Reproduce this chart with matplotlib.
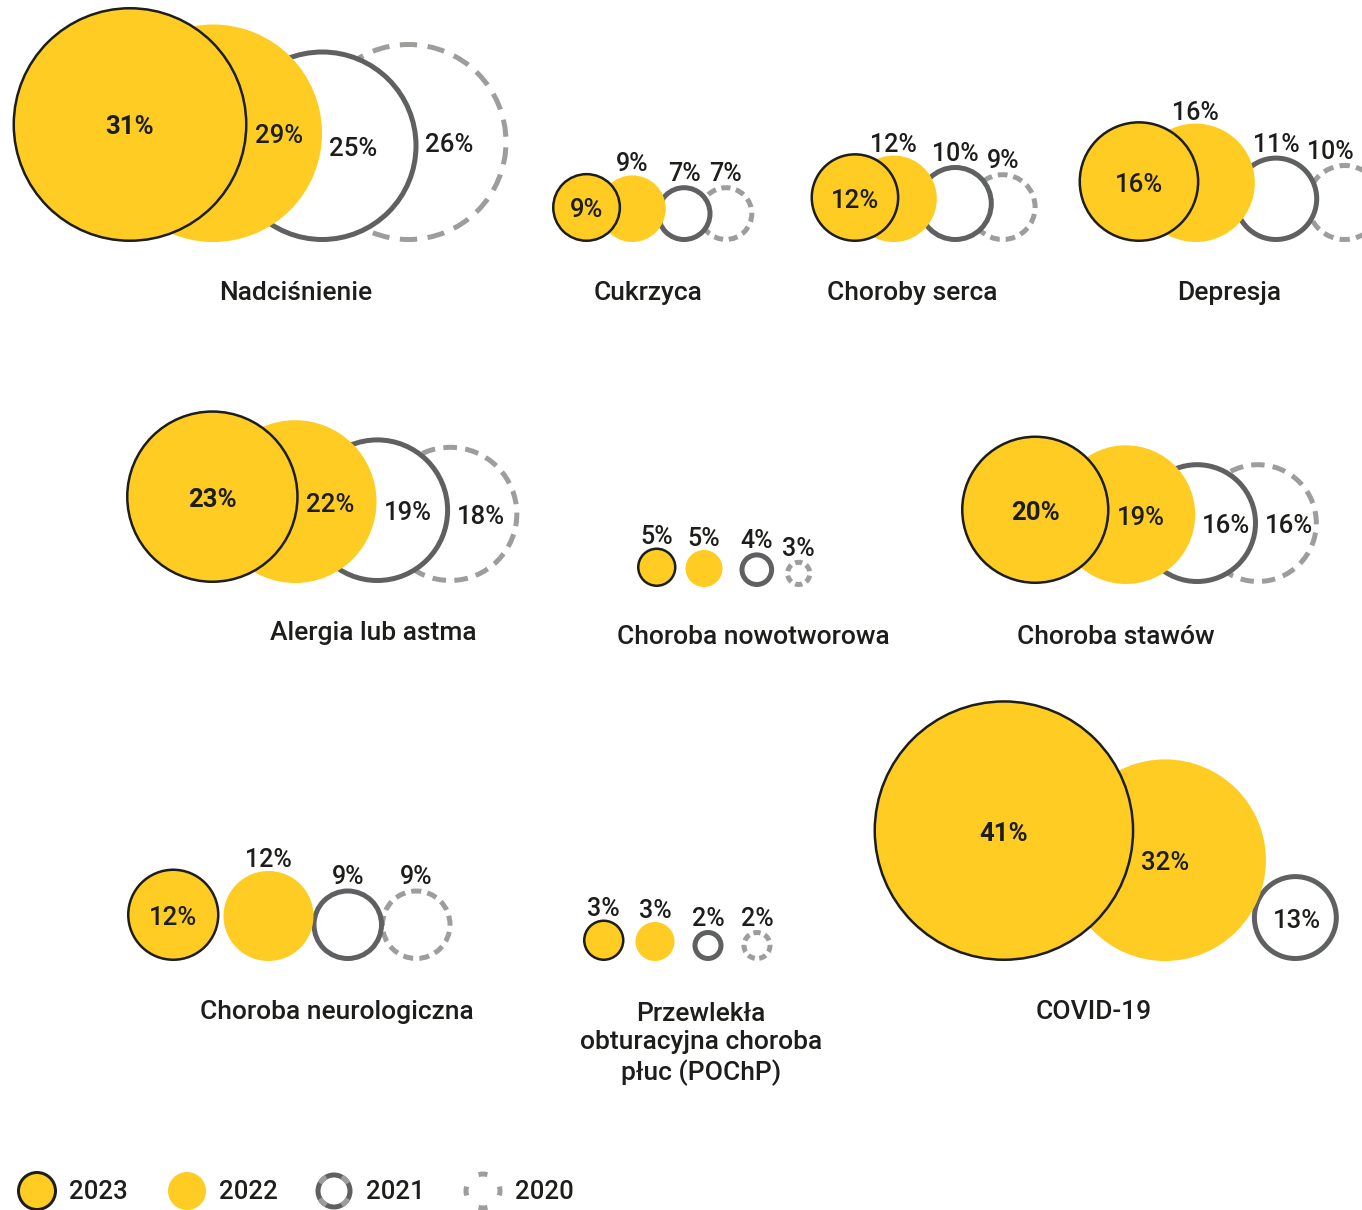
import numpy as np
import matplotlib
matplotlib.use('Agg')
import matplotlib.pyplot as plt
from matplotlib.patches import Circle

plt.rcParams['font.family'] = ['Roboto', 'DejaVu Sans']
plt.rcParams['lines.scale_dashes'] = False

# --- data ---
categories = ['Nadciśnienie', 'Cukrzyca', 'Choroby serca', 'Depresja',
              'Alergia lub astma', 'Choroba nowotworowa', 'Choroba stawów',
              'Choroba neurologiczna',
              'Przewlekła\nobturacyjna choroba\npłuc (POChP)', 'COVID-19']
years = ['2023', '2022', '2021', '2020']
v2023 = [31, 9, 12, 16, 23, 5, 20, 12, 3, 41]
v2022 = [29, 9, 12, 16, 22, 5, 19, 12, 3, 32]
v2021 = [25, 7, 10, 11, 19, 4, 16, 9, 2, 13]
v2020 = [26, 7, 9, 10, 18, 3, 16, 9, 2, None]

# --- layout (pixels) ---
W, H = 1362, 1210
starts = [12.5, 552, 810.5, 1078.5, 126, 637, 961, 127, 583, 873.5]   # left edge of first bubble
bases = [242, 242, 242, 242, 583, 587, 584, 961, 961, 961]            # bottom line of bubbles
scales = [3.75, 3.7, 3.6, 3.7, 3.7, 3.7, 3.65, 3.75, 6.5, 3.15]        # px per percent
gaps = [(-143, -96, -110), (-22, -10, -15), (-49, -20, -26), (-63, -22, -14),
        (-85, -72, -69), (9, 17, 11), (-53, -59, -61), (4, -2, -4),
        (11, 18, 18), (-70, -14, 0)]
title_xy = [(296, 293), (648, 293), (912, 293), (1229, 293), (373, 633),
            (753, 637), (1116, 637), (337, 1012), (701, 1044), (1094, 1012)]

YELLOW = '#FECC22'
INK = '#1d1d1b'
DARK = '#5f6061'
LIGHT = '#9d9d9c'

styles = {
    '2023': dict(fc=YELLOW, ec=INK, lw=2.5, dashed=False, z=4),
    '2022': dict(fc=YELLOW, ec='none', lw=0, dashed=False, z=3),
    '2021': dict(fc='white', ec=DARK, lw=5, dashed=False, z=2),
    '2020': dict(fc='white', ec=LIGHT, lw=5, dashed=True, z=1),
}
inside_min = {'2023': 9, '2022': 17, '2021': 13, '2020': 13}

fig = plt.figure(figsize=(W / 100, H / 100), dpi=100)
ax = fig.add_axes([0, 0, 1, 1])
ax.set_xlim(0, W)
ax.set_ylim(H, 0)
ax.axis('off')
px2pt = 72 / fig.dpi


def dash_style(r, frac=0.62):
    circ = 2 * np.pi * r
    period = 10 + 0.03 * circ
    n = max(4, round(circ / period))
    period = circ / n
    on = frac * period
    return (on / 2 * px2pt, (on * px2pt, (period - on) * px2pt))


def bubble(cx, cy, r, st):
    ls = dash_style(r) if st['dashed'] else 'solid'
    ax.add_patch(Circle((cx, cy), r, facecolor=st['fc'], edgecolor=st['ec'],
                        linewidth=st['lw'] * px2pt, linestyle=ls, zorder=st['z']))


for g, name in enumerate(categories):
    vals = [v2023[g], v2022[g], v2021[g], v2020[g]]
    k = scales[g]
    right = None
    for i, (year, v) in enumerate(zip(years, vals)):
        if v is None:
            continue
        st = styles[year]
        r = k * v
        R = r + st['lw'] / 2
        left = starts[g] if i == 0 else right + gaps[g][i - 1]
        cx, cy = left + R, bases[g] - R
        bubble(cx, cy, r, st)

        lab = f'{v}%'
        if v >= inside_min[year]:
            if i == 0:
                ax.text(cx, cy + 3, lab, ha='center', va='center', fontsize=18.5,
                        color=INK, fontweight='bold' if v >= 20 else 'medium', zorder=10)
            else:
                ax.text(right + 7, cy + 3, lab, ha='left', va='center', fontsize=18.5,
                        color=INK, fontweight='medium', zorder=10)
        else:
            ax.text(min(cx, W - 32), cy - R - 4, lab, ha='center', va='baseline',
                    fontsize=18, color=INK, fontweight='medium', zorder=10)
        right = cx + R

    tx, ty = title_xy[g]
    ax.text(tx, ty, name, ha='center', va='center', fontsize=19, color=INK,
            fontweight='medium', linespacing=1.25)

# --- legend ---
leg_x = [37, 187, 334, 483]
leg_y = 1191
ax.add_patch(Circle((leg_x[0], leg_y), 18.5, facecolor=YELLOW, edgecolor=INK,
                    linewidth=3 * px2pt))
ax.add_patch(Circle((leg_x[1], leg_y), 19, facecolor=YELLOW, edgecolor='none'))
ax.add_patch(Circle((leg_x[2], leg_y), 16, facecolor='white', edgecolor=DARK,
                    linewidth=5 * px2pt))
c = 2 * np.pi * 16
ax.add_patch(Circle((leg_x[2], leg_y), 16, facecolor='none', edgecolor=LIGHT,
                    linewidth=5 * px2pt,
                    linestyle=((c / 8 + 4.5) * px2pt, (9 * px2pt, (c / 4 - 9) * px2pt))))
c = 2 * np.pi * 17
ax.add_patch(Circle((leg_x[3], leg_y), 17, facecolor='none', edgecolor=LIGHT,
                    linewidth=5 * px2pt,
                    linestyle=(4.5 * px2pt, (9 * px2pt, (c / 4 - 9) * px2pt))))
for x, year in zip(leg_x, years):
    ax.text(x + 32, leg_y + 1, year, ha='left', va='center', fontsize=18.5,
            color=INK, fontweight='medium')

fig.savefig('out.png', dpi=100)
